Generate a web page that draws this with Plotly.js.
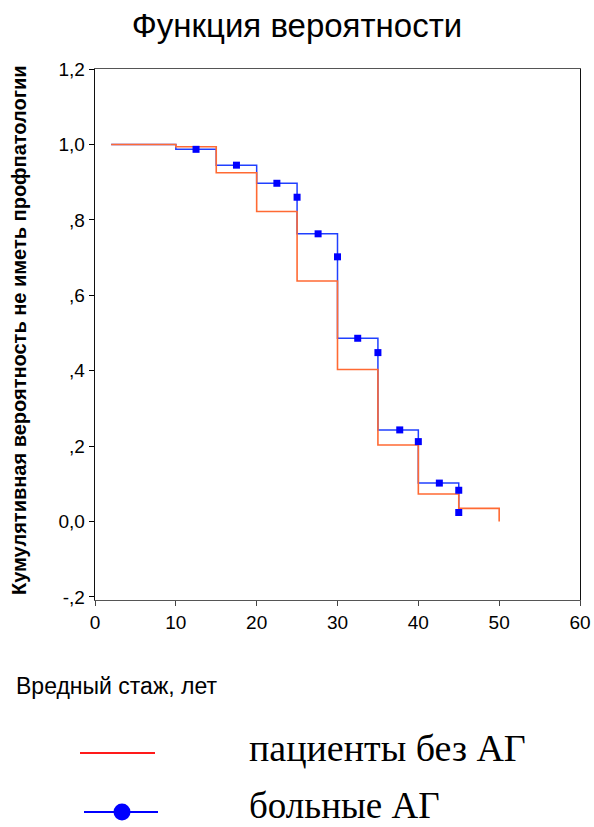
<!DOCTYPE html>
<html>
<head>
<meta charset="utf-8">
<script src="https://cdn.plot.ly/plotly-3.0.1.min.js"></script>
<style>html,body{margin:0;padding:0;background:#fff;}</style>
</head>
<body>
<div id="chart" style="width:594px;height:827px;"></div>
<script>
// Kaplan–Meier step data (years of harmful exposure vs cumulative probability)
var noAgTime = [2, 10, 15, 20, 25, 30, 35, 40, 45, 50];
var noAgSurv = [1.0, 0.994, 0.925, 0.822, 0.638, 0.403, 0.203, 0.073, 0.035, 0.0];

var agTime = [2, 10, 15, 20, 25, 30, 35, 40, 45];
var agSurv = [1.0, 0.987, 0.945, 0.897, 0.763, 0.486, 0.243, 0.102, 0.024];

// censored observations (blue markers)
var agCensTime = [12.5, 17.5, 22.5, 25, 27.6, 30, 32.5, 35, 37.7, 40, 42.6, 45, 45];
var agCensSurv = [0.987, 0.945, 0.897, 0.860, 0.763, 0.702, 0.486, 0.448, 0.243, 0.212, 0.102, 0.083, 0.024];

var xTicks = [0, 10, 20, 30, 40, 50, 60];
var yTicks = [-0.2, 0, 0.2, 0.4, 0.6, 0.8, 1.0, 1.2];
var yTickText = ['-,2', '0,0', ',2', ',4', ',6', ',8', '1,0', '1,2'];

var titleText = 'Функция вероятности';
var xTitleText = 'Вредный стаж, лет';
var yTitleText = 'Кумулятивная вероятность не иметь профпатологии';
var legendNames = ['пациенты без АГ', 'больные АГ'];

var sans = 'Liberation Sans, Arial, sans-serif';
var serif = 'Liberation Serif, Times New Roman, serif';

var traces = [
  {x: agTime, y: agSurv, type: 'scatter', mode: 'lines', line: {shape: 'hv', color: '#2040ff', width: 1.5}, name: legendNames[1], showlegend: false, hoverinfo: 'x+y'},
  {x: noAgTime, y: noAgSurv, type: 'scatter', mode: 'lines', line: {shape: 'hv', color: '#ff6a33', width: 1.6}, name: legendNames[0], showlegend: false, hoverinfo: 'x+y'},
  {x: agCensTime, y: agCensSurv, type: 'scatter', mode: 'markers', marker: {symbol: 'square', size: 7, color: '#0000ff', line: {width: 0}}, name: legendNames[1] + ' (цензурированные)', showlegend: false, hoverinfo: 'x+y'}
];

function px2x(p) { return (p - 95) / 485; }
function px2y(p) { return (600 - p) / 531; }

var layout = {
  width: 594, height: 827,
  margin: {l: 95, r: 14, t: 69, b: 227, pad: 0},
  paper_bgcolor: '#fff', plot_bgcolor: '#fff',
  showlegend: false,
  font: {family: sans, color: '#000'},
  title: {text: titleText, font: {family: sans, size: 33, color: '#000'}, xref: 'container', x: 0.5, xanchor: 'center', yref: 'container', y: 1 - 25/827, yanchor: 'middle'},
  xaxis: {
    range: [0, 60], tickvals: xTicks, ticktext: xTicks.map(String),
    ticks: 'outside', ticklen: 5, tickwidth: 1, tickcolor: '#444',
    showline: true, linecolor: '#555', linewidth: 1.3, mirror: true,
    showgrid: false, zeroline: false,
    tickfont: {family: sans, size: 19, color: '#000'}
  },
  yaxis: {
    range: [-0.208, 1.2], tickvals: yTicks, ticktext: yTickText,
    ticks: 'outside', ticklen: 5, tickwidth: 1, tickcolor: '#000',
    showline: true, linecolor: '#111', linewidth: 1.3, mirror: true,
    showgrid: false, zeroline: false,
    tickfont: {family: sans, size: 19, color: '#000'}
  },
  annotations: [
    {text: xTitleText, xref: 'paper', yref: 'paper', x: px2x(14), y: px2y(686), xanchor: 'left', yanchor: 'middle', showarrow: false, font: {family: sans, size: 23, color: '#000'}},
    {text: yTitleText, xref: 'paper', yref: 'paper', x: px2x(19), y: px2y(330), xanchor: 'center', yanchor: 'middle', textangle: -90, showarrow: false, font: {family: sans, size: 20, weight: 'bold', color: '#000'}},
    {text: legendNames[0], xref: 'paper', yref: 'paper', x: px2x(247), y: px2y(748), xanchor: 'left', yanchor: 'middle', showarrow: false, font: {family: serif, size: 38, color: '#000'}},
    {text: legendNames[1], xref: 'paper', yref: 'paper', x: px2x(247), y: px2y(805), xanchor: 'left', yanchor: 'middle', showarrow: false, font: {family: serif, size: 37, color: '#000'}}
  ],
  shapes: [
    {type: 'line', xref: 'paper', yref: 'paper', x0: px2x(80), x1: px2x(155), y0: px2y(753), y1: px2y(753), line: {color: '#ff1a1a', width: 2}},
    {type: 'line', xref: 'paper', yref: 'paper', x0: px2x(84), x1: px2x(158), y0: px2y(812), y1: px2y(812), line: {color: '#0000ff', width: 2}},
    {type: 'circle', xref: 'paper', yref: 'paper', xsizemode: 'pixel', ysizemode: 'pixel', xanchor: px2x(122), yanchor: px2y(812), x0: -8.5, x1: 8.5, y0: -8.5, y1: 8.5, fillcolor: '#0000ff', line: {color: '#0000ff', width: 0}}
  ]
};

Plotly.newPlot('chart', traces, layout, {staticPlot: true, displayModeBar: false});
</script>
</body>
</html>
